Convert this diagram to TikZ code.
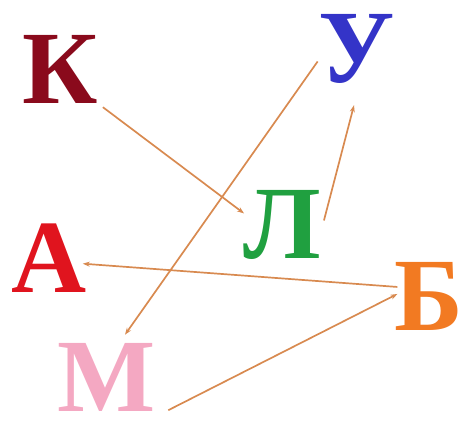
\documentclass[tikz,border=0pt]{standalone}
\usepackage{fontspec}
\setmainfont{Liberation Serif}
\usepackage{xcolor}
\usepackage{tikz}
\usetikzlibrary{arrows.meta,positioning,calc}

\definecolor{kred}{HTML}{8A0A1C}
\definecolor{ublue}{HTML}{3434C8}
\definecolor{lgreen}{HTML}{20A040}
\definecolor{ared}{HTML}{E0141E}
\definecolor{borange}{HTML}{F27A22}
\definecolor{mpink}{HTML}{F4A8C2}
\definecolor{arrtan}{HTML}{D88A50}

\begin{document}
\begin{tikzpicture}[
        x=1pt, y=-1pt,
        letter/.style={
            inner sep=0pt,
            anchor=base,
            font=\fontsize{104}{110}\selectfont\bfseries
        },
        link/.style={
            draw=arrtan,
            line width=1.7pt,
            -{Stealth[length=7pt,width=5pt]}
        }
    ]
        \useasboundingbox (0,0) rectangle (468,421);

        % Letters
        \node[letter, text=kred] (K) at (60,103) {К};
        \node[letter, text=ublue] (U) at (357,82) {У};
        \node[letter, text=lgreen] (L) at (282,258) {Л};
        \node[letter, text=ared] (A) at (49,292) {А};
        \node[letter, text=borange] (B) at (429,330) {Б};
        \node[letter, text=mpink] (M) at (107,411) {М};

        % Arrows
        \draw[link] ($(K.south east)+(5,4)$) -- ($(L.west)+(1,-11)$);
        \draw[link] ($(L.east)+(3,-4)$) -- ($(U.south)+(-3,22)$);
        \draw[link] ($(U.west)+(-1,13)$) -- ($(M.north)+(18,-8)$);
        \draw[link] ($(B.west)+(3,-9)$) -- ($(A.east)+(-4,6)$);
        \draw[link] ($(M.south east)+(12,-1)$) -- ($(B.west)+(3,-2)$);
    \end{tikzpicture}
\end{document}
